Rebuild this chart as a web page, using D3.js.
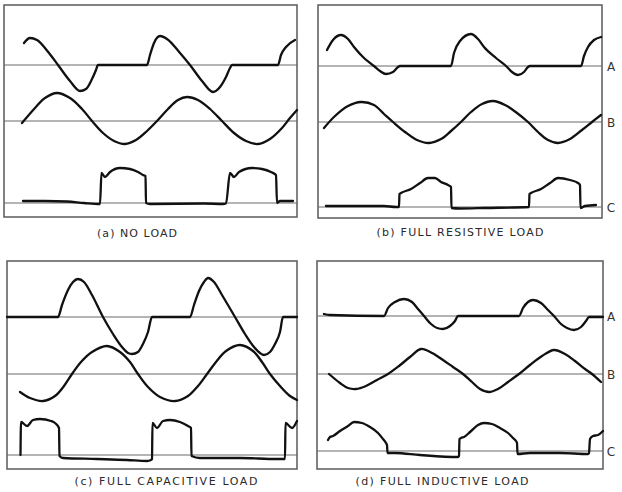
<!DOCTYPE html>
<html><head><meta charset="utf-8">
<script src="https://cdn.jsdelivr.net/npm/d3@7/dist/d3.min.js"></script>
<style>body{margin:0;background:#fff}svg{display:block}</style>
</head><body>
<script>
// ---- data: [sweep position, deflection] ----
const panelCaptions = ["(a) NO LOAD", "(b) FULL RESISTIVE LOAD", "(c) FULL CAPACITIVE LOAD", "(d) FULL INDUCTIVE LOAD"];
const traceLabels = ["A", "B", "C"];

const noLoadA = [[20,22],[26,27],[33,25],[45,12],[54,0],[66,-16],[76,-26],[82,-24],[88,-14],[92,-5],[94,0],[143,0],[146,10],[150,22],[156,29],[163,26],[176,12],[186,0],[198,-16],[209,-27],[216,-22],[222,-12],[226,-3],[228,0],[274,0],[277,10],[282,18],[291,25]];
const noLoadB = [[18,-2],[31,13],[41,23],[53,28],[66,23],[78,12],[88,0],[99,-12],[110,-20],[121,-23],[132,-19],[143,-10],[153,0],[164,12],[174,21],[183,24],[194,21],[206,12],[218,0],[230,-12],[242,-20],[254,-23],[266,-18],[278,-7],[286,3],[293,11]];
const noLoadC = [[19,2],[41,2],[63,1.5],[80,0],[96,-1],[97.5,30],[101,26],[106,31],[116,35],[126,34],[134,31],[139,28],[141.5,27],[142,0],[146,-1],[200,-0.5],[219,-1],[222,-0.5],[226,30],[230,26],[235,31],[248,35],[258,34],[267,31],[272,28],[273,0],[276,2],[289,2]];

const resA = [[9,16],[15,26],[23,31],[30,27],[36,19],[46,8],[56,0],[62,-5],[68,-8],[75,-6],[80,-1],[82,0],[133,0],[136,13],[142,25],[153,32],[160,27],[166,19],[178,8],[188,0],[194,-6],[200,-9],[206,-6],[210,-1],[212,0],[263,0],[266,10],[270,19],[276,26],[283,29]];
const resB = [[6,-6],[17,6],[30,16],[43,20],[56,17],[66,8],[75,0],[87,-10],[99,-18],[111,-21],[123,-17],[133,-9],[143,0],[153,10],[164,18],[175,21],[187,17],[199,9],[210,0],[220,-10],[230,-18],[240,-21],[252,-17],[264,-8],[274,0],[283,7]];
const resC = [[8,1],[66,1],[78,0],[81,0],[81.5,13],[83,14],[93,18],[102,24],[110,29],[117,29],[123,25],[130,22],[133,20],[133.5,-1],[142,-1.5],[167,-1],[211,0],[211.5,13],[213,14],[223,18],[232,24],[240,29],[252,27],[260,24],[262,22],[262.5,-1],[267,1],[278,2]];

const capA = [[0,0],[51,0],[55,12],[61,27],[66,35],[71,38],[77,35],[85,22],[96,0],[106,-17],[115,-30],[121,-36],[125,-37],[131,-35],[136,-27],[141,-15],[145,0],[183,0],[187,12],[192,26],[197,35],[201,39],[207,35],[215,22],[228,0],[238,-17],[247,-30],[253,-36],[257,-38],[263,-35],[268,-27],[273,-15],[276,0],[290,0]];
const capB = [[13,-18],[23,-24],[36,-27],[48,-22],[57,-12],[65,0],[74,12],[85,22],[100,28],[113,22],[123,12],[131,0],[141,-13],[153,-23],[168,-27],[181,-22],[191,-12],[200,0],[209,12],[219,23],[233,29],[246,23],[255,12],[263,0],[273,-12],[283,-22],[290,-26]];
const capC = [[13.5,0],[14,33],[20,29],[26,35],[33,36],[44,34],[48,32],[52,27],[52.5,-1],[56,-3],[90,-4],[120,-5],[140,-6],[144,-5],[145,-4],[145.5,32],[150,27],[156,34],[163,35],[173,33],[181,29],[184,27],[184.5,-1],[193,-3],[233,-3],[270,-4],[278,-4],[278.5,32],[285,27],[290,34]];

const indA = [[7,2],[13,1],[67,0],[71,8],[78,14],[87,17],[95,14],[101,7],[107,0],[114,-8],[120,-12],[126,-13],[133,-10],[138,-5],[141,0],[202,0],[206,8],[211,14],[216,16],[224,13],[231,6],[237,0],[244,-8],[250,-12],[257,-14],[264,-11],[269,-5],[272,-1],[286,-1]];
const indB = [[12,0],[23,-9],[31,-14],[39,-15],[49,-12],[60,-6],[71,0],[82,8],[93,17],[104,25],[115,21],[126,14],[136,7],[146,0],[155,-8],[163,-15],[172,-18],[181,-15],[191,-8],[202,0],[213,9],[225,18],[237,24],[248,20],[258,13],[268,5],[275,0],[284,-8]];
const indC = [[11,11],[13,14],[16,15],[23,20],[31,25],[37,29],[45,28],[53,24],[61,18],[66,12],[69,8],[70,6],[70.5,-2],[78,-2],[103,-4],[141,-6],[142,-5],[142.5,12],[144,13],[147,14],[153,19],[161,26],[167,28],[175,27],[183,23],[191,18],[196,13],[199,10],[200,8],[200.5,-3],[213,-2],[243,-2],[271,-3],[272,-2],[273,12],[276,15],[281,16],[286,20]];

const panelTraces = [[noLoadA, noLoadB, noLoadC],[resA, resB, resC],[capA, capB, capC],[indA, indB, indC]];
const sweepSpan = [293, 284, 290, 286];

// ---- layout ----
const layout = [
  {x0:4,   x1:297, y0:5,   y1:217, base:[65,121,203], cap:[137,237], capW:80,  letters:false},
  {x0:318, x1:602, y0:5,   y1:218, base:[66,122,207], cap:[460,236], capW:167, letters:true},
  {x0:7,   x1:297, y0:261, y1:469, base:[317,374,455], cap:[166,485], capW:183, letters:false},
  {x0:317, x1:603, y0:261, y1:469, base:[316,374,451], cap:[442,485], capW:173, letters:true}
];

const svg = d3.select("body").append("svg").attr("width",622).attr("height",492);

layout.forEach((L, i) => {
  const g = svg.append("g");
  const x = d3.scaleLinear().domain([0, sweepSpan[i]]).range([L.x0, L.x1]);
  g.append("rect").attr("x",L.x0).attr("y",L.y0).attr("width",L.x1-L.x0).attr("height",L.y1-L.y0)
    .attr("fill","none").attr("stroke","#5a5a5a").attr("stroke-width",1.5);
  panelTraces[i].forEach((data, k) => {
    const yb = L.base[k];
    const y = d3.scaleLinear().domain([-40,40]).range([yb+40, yb-40]);
    g.append("line").attr("x1",L.x0).attr("x2",L.x1).attr("y1",y(0)).attr("y2",y(0))
      .attr("stroke","#6a6a6a").attr("stroke-width",1.1);
    const curve = k === 1 ? d3.curveCatmullRom.alpha(0.5) : d3.curveMonotoneX;
    const line = d3.line().x(d=>x(d[0])).y(d=>y(d[1])).curve(curve);
    g.append("path").attr("d", line(data)).attr("fill","none").attr("stroke","#111")
      .attr("stroke-width",2.3).attr("stroke-linejoin","round").attr("stroke-linecap","round");
    if (L.letters) {
      g.append("text").attr("x",611).attr("y",y(0)+4.5).attr("text-anchor","middle")
        .attr("font-family","DejaVu Sans, sans-serif").attr("font-size",12).attr("fill","#333")
        .text(traceLabels[k]);
    }
  });
  g.append("text").attr("x",L.cap[0] - L.capW/2).attr("y",L.cap[1])
    .attr("textLength",L.capW).attr("lengthAdjust","spacing")
    .attr("font-family","DejaVu Sans, sans-serif").attr("font-size",11)
    .attr("fill","#2a2a2a").text(panelCaptions[i]);
});
</script>
</body></html>
